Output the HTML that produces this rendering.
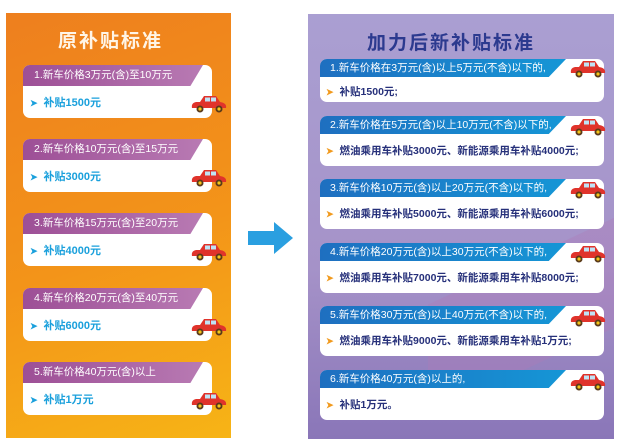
<!DOCTYPE html>
<html><head><meta charset="utf-8"><style>
body{margin:0;width:621px;height:447px;background:#fff;position:relative;overflow:hidden;font-family:"Liberation Sans","Noto Sans CJK SC",sans-serif;}
.abs{position:absolute}
#L{left:6px;top:13px;width:225px;height:425px;background:linear-gradient(160deg,#ee7f1e 0%,#f39419 55%,#f7b416 100%);}
#R{left:308px;top:14px;width:306px;height:425px;background:linear-gradient(180deg,#aa9fd2 0%,#a592c8 60%,#8a76b8 100%);overflow:hidden}
.lt{font-weight:bold;color:#fff5e6;font-size:19px;letter-spacing:2px}
.rt{font-weight:bold;color:#2c3a8f;font-size:19px;letter-spacing:2px}
.lc{position:absolute;left:23px;width:189px;height:53px;background:#fff;border-radius:7px;overflow:hidden}
.lh{position:absolute;left:0;top:0;width:180px;height:21px;background:linear-gradient(90deg,#9d4f96,#b87ab3);clip-path:polygon(0 0,100% 0,93% 100%,0 100%);color:#fff;font-size:10.5px;line-height:21px;padding-left:11px;box-sizing:border-box}
.lb{position:absolute;left:7px;top:29px;color:#1aa0dc;font-weight:bold;font-size:11px}
.rc{position:absolute;left:320px;width:284px;background:#fff;border-radius:7px;overflow:hidden}
.rh{position:absolute;left:0;top:0;width:246px;height:18px;background:linear-gradient(90deg,#1e6fc0,#1596d6);clip-path:polygon(0 0,100% 0,93% 100%,0 100%);color:#fff;font-size:10.5px;line-height:18px;padding-left:10px;box-sizing:border-box}
.rb{position:absolute;left:6px;top:25px;color:#26307a;font-weight:bold;font-size:10.5px}
.ar{color:#f19a1e;font-size:9px;margin-right:6px}
.la{color:#1aa0dc;font-size:9px;margin-right:6px}
svg.car{position:absolute}
</style></head><body>
<div id="L" class="abs"></div>
<div id="R" class="abs"><div class="abs" style="left:120px;top:230px;width:260px;height:110px;background:#b07ab8;opacity:.35;transform:skewY(-25deg)"></div></div>
<div class="abs lt" style="left:58px;top:26px">原补贴标准</div>
<div class="abs rt" style="left:367px;top:28px">加力后新补贴标准</div>

<div class="lc" style="top:65px"><div class="lh">1.新车价格3万元(含)至10万元</div><div class="lb"><span class="la">➤</span>补贴1500元</div></div>
<div class="lc" style="top:139px"><div class="lh">2.新车价格10万元(含)至15万元</div><div class="lb"><span class="la">➤</span>补贴3000元</div></div>
<div class="lc" style="top:213px"><div class="lh">3.新车价格15万元(含)至20万元</div><div class="lb"><span class="la">➤</span>补贴4000元</div></div>
<div class="lc" style="top:288px"><div class="lh">4.新车价格20万元(含)至40万元</div><div class="lb"><span class="la">➤</span>补贴6000元</div></div>
<div class="lc" style="top:362px"><div class="lh">5.新车价格40万元(含)以上</div><div class="lb"><span class="la">➤</span>补贴1万元</div></div>

<div class="rc" style="top:59px;height:43px"><div class="rh">1.新车价格在3万元(含)以上5万元(不含)以下的,</div><div class="rb"><span class="ar">➤</span>补贴1500元;</div></div>
<div class="rc" style="top:116px;height:50px"><div class="rh">2.新车价格在5万元(含)以上10万元(不含)以下的,</div><div class="rb" style="top:27px"><span class="ar">➤</span>燃油乘用车补贴3000元、新能源乘用车补贴4000元;</div></div>
<div class="rc" style="top:179px;height:50px"><div class="rh">3.新车价格10万元(含)以上20万元(不含)以下的,</div><div class="rb" style="top:27px"><span class="ar">➤</span>燃油乘用车补贴5000元、新能源乘用车补贴6000元;</div></div>
<div class="rc" style="top:243px;height:50px"><div class="rh">4.新车价格20万元(含)以上30万元(不含)以下的,</div><div class="rb" style="top:27px"><span class="ar">➤</span>燃油乘用车补贴7000元、新能源乘用车补贴8000元;</div></div>
<div class="rc" style="top:306px;height:50px"><div class="rh">5.新车价格30万元(含)以上40万元(不含)以下的,</div><div class="rb" style="top:27px"><span class="ar">➤</span>燃油乘用车补贴9000元、新能源乘用车补贴1万元;</div></div>
<div class="rc" style="top:370px;height:50px"><div class="rh">6.新车价格40万元(含)以上的,</div><div class="rb" style="top:27px"><span class="ar">➤</span>补贴1万元。</div></div>

<svg class="abs" style="left:248px;top:222px" width="46" height="32"><polygon points="0,9 26,9 26,0 45,16 26,32 26,23 0,23" fill="#2a9fe0"/></svg>

<svg width="0" height="0" style="position:absolute"><defs><g id="car"><path d="M2,14 Q1,9 6,8 L10,8 L14,2 L26,2 L30,8 Q37,9 36,14 Z" fill="#e0332b"/><rect x="15" y="3.5" width="5" height="4" fill="#bfe3f5"/><rect x="21" y="3.5" width="5" height="4" fill="#bfe3f5"/><circle cx="10" cy="15" r="3.5" fill="#5a3a1a"/><circle cx="10" cy="15" r="1.6" fill="#f5c518"/><circle cx="29" cy="15" r="3.5" fill="#5a3a1a"/><circle cx="29" cy="15" r="1.6" fill="#f5c518"/></g></defs></svg>
<svg class="car" style="left:190px;top:94px" width="38" height="20"><use href="#car"/></svg>
<svg class="car" style="left:190px;top:168px" width="38" height="20"><use href="#car"/></svg>
<svg class="car" style="left:190px;top:242px" width="38" height="20"><use href="#car"/></svg>
<svg class="car" style="left:190px;top:317px" width="38" height="20"><use href="#car"/></svg>
<svg class="car" style="left:190px;top:391px" width="38" height="20"><use href="#car"/></svg>
<svg class="car" style="left:569px;top:59px" width="38" height="20"><use href="#car"/></svg>
<svg class="car" style="left:569px;top:117px" width="38" height="20"><use href="#car"/></svg>
<svg class="car" style="left:569px;top:180px" width="38" height="20"><use href="#car"/></svg>
<svg class="car" style="left:569px;top:244px" width="38" height="20"><use href="#car"/></svg>
<svg class="car" style="left:569px;top:308px" width="38" height="20"><use href="#car"/></svg>
<svg class="car" style="left:569px;top:372px" width="38" height="20"><use href="#car"/></svg>
</body></html>
